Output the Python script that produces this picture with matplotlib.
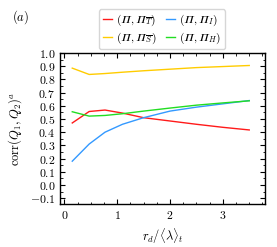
import numpy as np
import matplotlib
matplotlib.use("Agg")
import matplotlib.pyplot as plt
from matplotlib.ticker import MultipleLocator

plt.rcParams['font.family'] = 'serif'
plt.rcParams['font.serif'] = ['cmr10']
plt.rcParams['mathtext.fontset'] = 'cm'
plt.rcParams['axes.formatter.use_mathtext'] = True
plt.rcParams['axes.unicode_minus'] = True

# data
r_d = [0.15, 0.47, 0.77, 1.1, 1.5, 2.0, 2.5, 3.0, 3.5]
corr_T = [0.47, 0.557, 0.568, 0.545, 0.51, 0.485, 0.46, 0.437, 0.417]
corr_S = [0.886, 0.838, 0.845, 0.855, 0.866, 0.878, 0.89, 0.898, 0.906]
corr_I = [0.18, 0.31, 0.40, 0.46, 0.51, 0.56, 0.59, 0.615, 0.64]
corr_H = [0.555, 0.522, 0.527, 0.54, 0.56, 0.583, 0.605, 0.622, 0.638]

fig = plt.figure(figsize=(2.77, 2.47), dpi=100)
ax = fig.add_axes([0.217, 0.174, 0.74, 0.611])

# italic capital pi (U+1D6F1) so it looks like the TeX \varPi
l1, = ax.plot(r_d, corr_T, color='#ff1a1a', lw=1.0, label=r'$(𝛱, 𝛱_{\overline{T}})$')
l2, = ax.plot(r_d, corr_S, color='#ffcc00', lw=1.0, label=r'$(𝛱, 𝛱_{\overline{S}})$')
l3, = ax.plot(r_d, corr_I, color='#3399ff', lw=1.0, label=r'$(𝛱, 𝛱_{I})$')
l4, = ax.plot(r_d, corr_H, color='#22dd22', lw=1.0, label=r'$(𝛱, 𝛱_{H})$')

ax.set_xlim(-0.08, 3.8)
ax.set_ylim(-0.145, 1.0)
ax.xaxis.set_major_locator(MultipleLocator(1))
ax.xaxis.set_minor_locator(MultipleLocator(0.25))
ax.yaxis.set_major_locator(MultipleLocator(0.1))
ax.yaxis.set_minor_locator(MultipleLocator(0.05))
ax.tick_params(which='both', direction='in', top=True, right=True, labelsize=8.5)
ax.tick_params(which='major', length=3.5, width=0.8)
ax.tick_params(which='minor', length=1.8, width=0.6)
for s in ax.spines.values():
    s.set_linewidth(1.0)

ax.set_xlabel(r'$r_d/\langle\lambda\rangle_t$', fontsize=9)
ax.set_ylabel(r'$\mathrm{corr}(Q_1,Q_2)^a$', fontsize=9)

leg = fig.legend(handles=[l1, l2, l3, l4], ncol=2, fontsize=8.2,
                 loc='upper center', bbox_to_anchor=(0.585, 0.985),
                 handlelength=0.8, handletextpad=0.4, columnspacing=0.8,
                 labelspacing=0.2, borderpad=0.3, frameon=True)
leg.get_frame().set_edgecolor('#cccccc')

fig.text(0.045, 0.915, r'$(a)$', fontsize=9)

fig.savefig('out.png', dpi=100)
